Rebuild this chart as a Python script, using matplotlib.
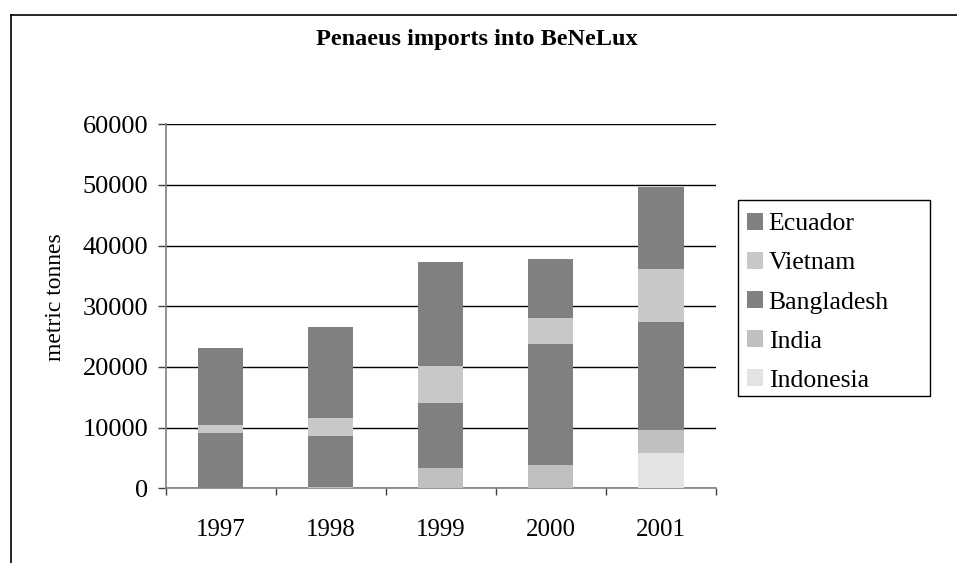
import matplotlib
matplotlib.use("Agg")
import matplotlib.pyplot as plt
from matplotlib.lines import Line2D
from matplotlib.patches import Rectangle
import numpy as np

plt.rcParams['font.family'] = ['Liberation Serif', 'DejaVu Serif']

years = ["1997", "1998", "1999", "2000", "2001"]
indonesia = [0, 0, 0, 0, 5860]
india = [100, 250, 3270, 3880, 3790]
bangladesh = [9060, 8410, 10840, 19960, 17830]
vietnam = [1200, 2970, 6100, 4290, 8740]
ecuador = [12820, 15020, 17170, 9740, 13370]

series = [
    ("Indonesia", indonesia, "#e3e3e3"),
    ("India", india, "#c0c0c0"),
    ("Bangladesh", bangladesh, "#808080"),
    ("Vietnam", vietnam, "#c8c8c8"),
    ("Ecuador", ecuador, "#808080"),
]
yticks = [0, 10000, 20000, 30000, 40000, 50000, 60000]

W, H = 957, 563
fig = plt.figure(figsize=(W / 100, H / 100), dpi=100)
ax = fig.add_axes([165.6 / W, 1 - 488.3 / H, (716 - 165.6) / W, (488.3 - 124.3) / H])

x = np.arange(len(years))
bottom = np.zeros(len(years))
handles = {}
for name, vals, col in series:
    b = ax.bar(x, vals, bottom=bottom, width=0.41, color=col, edgecolor='none', zorder=3, label=name)
    handles[name] = b
    bottom += np.array(vals)

ax.set_xlim(-0.5, len(years) - 0.5)
ax.set_ylim(0, 60000)
ax.set_yticks(yticks)
ax.set_yticklabels([str(v) for v in yticks])
ax.yaxis.grid(True, color='black', linewidth=1.0, zorder=1)
ax.set_axisbelow(True)

ax.set_xticks(x)
ax.set_xticklabels(years)
ax.set_xticks(np.arange(-0.5, len(years)), minor=True)
ax.tick_params(axis='x', which='major', length=0, pad=22, labelsize=18)
ax.tick_params(axis='x', which='minor', length=5, direction='out', color='#404040', width=1)
ax.tick_params(axis='y', which='major', length=6, direction='out', color='#404040', width=1, labelsize=19, pad=6.5)

for s in ['top', 'right']:
    ax.spines[s].set_visible(False)
ax.spines['left'].set_color('#808080')
ax.spines['bottom'].set_color('#808080')
ax.spines['left'].set_linewidth(1.2)
ax.spines['bottom'].set_linewidth(1.2)

ax.set_ylabel("metric tonnes", fontsize=17)
ax.yaxis.set_label_coords((66 - 165.6) / (716 - 165.6), (488.3 - 297) / (488.3 - 124.3))

fig.text(477 / W, 1 - 40 / H, "Penaeus imports into BeNeLux", ha='center', va='center',
         fontsize=17.5, fontweight='bold')

order = ["Ecuador", "Vietnam", "Bangladesh", "India", "Indonesia"]
leg = fig.legend([handles[n] for n in order], order,
                 loc='upper left', bbox_to_anchor=(747 / W, 1 - 213 / H),
                 frameon=False, fontsize=18.5,
                 handlelength=0.62, handleheight=0.62, handletextpad=0.22,
                 labelspacing=0.65, borderpad=0.0, borderaxespad=0)
# legend frame
fig.add_artist(Rectangle((738 / W, 1 - 396 / H), (930 - 738) / W, (396 - 200) / H,
                         transform=fig.transFigure, facecolor='none', edgecolor='black', linewidth=1.0))

# outer chart frame (left and top edges visible)
fig.add_artist(Line2D([11 / W, 11 / W], [0, 1 - 14.5 / H], transform=fig.transFigure, color='black', linewidth=1.2))
fig.add_artist(Line2D([11 / W, 1], [1 - 14.5 / H, 1 - 14.5 / H], transform=fig.transFigure, color='black', linewidth=1.2))

fig.savefig("out.png", dpi=100)
